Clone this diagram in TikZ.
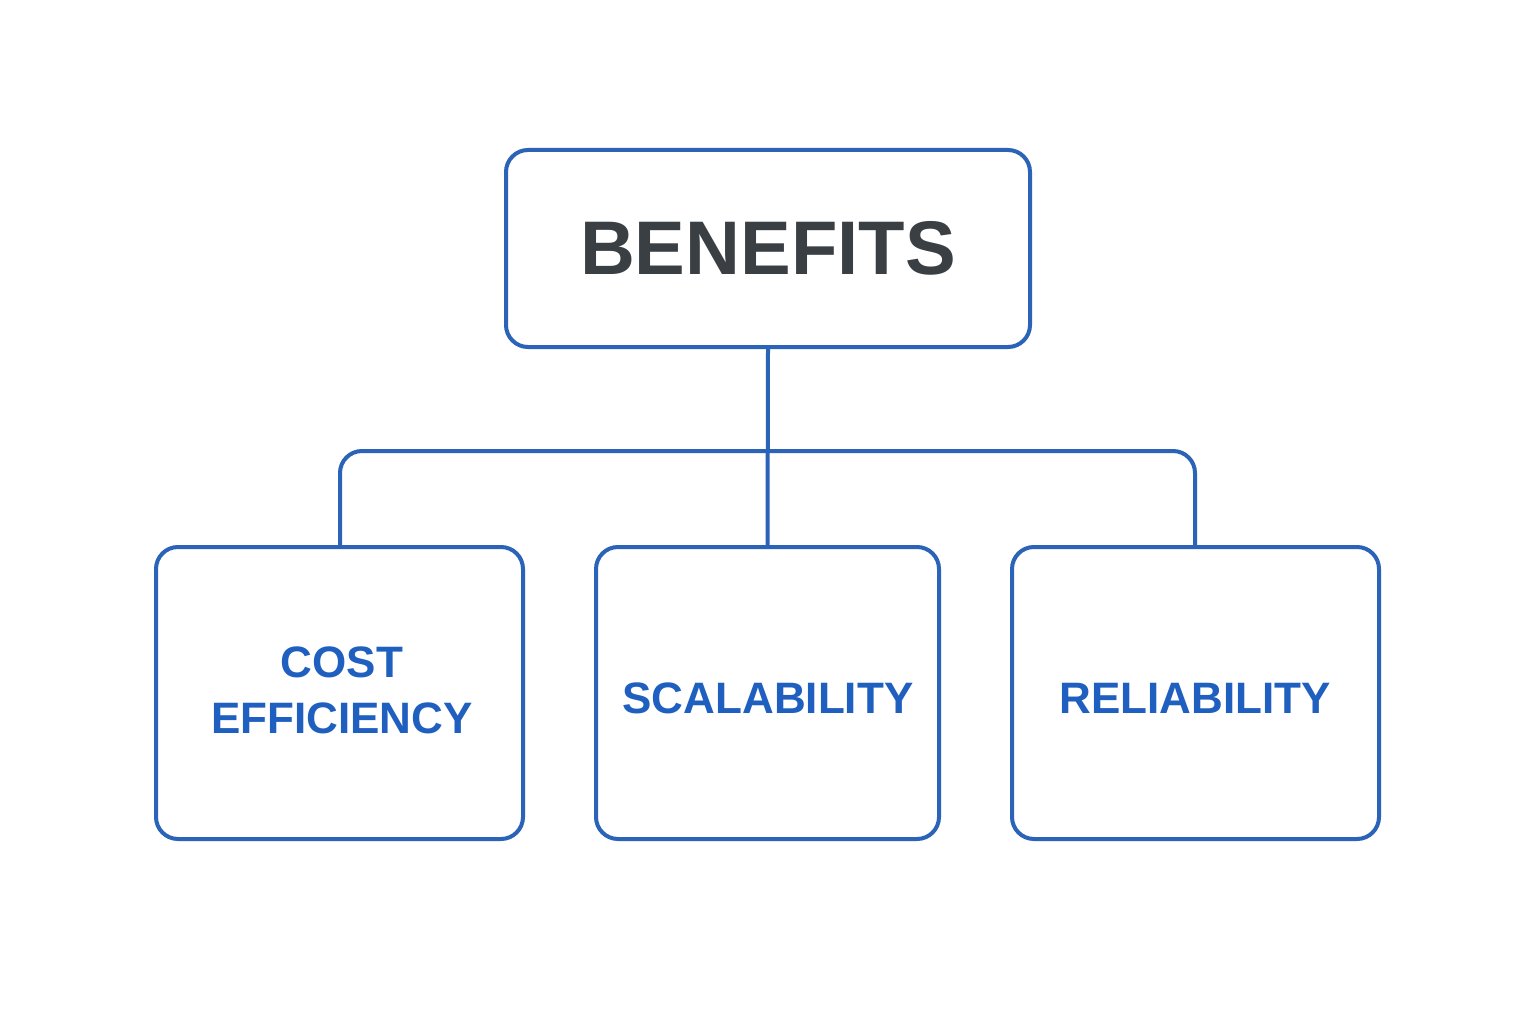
\documentclass[tikz,border=0pt]{standalone}
\usepackage{fontspec}
\setmainfont{Liberation Sans}
\begin{document}
\begin{tikzpicture}[x=1pt,y=-1pt,
  bx/.style={draw=boxblue,line width=4pt,rounded corners=22pt,fill=white},
  ln/.style={draw=boxblue,line width=4pt},
  lbl/.style={font=\bfseries\fontsize{44}{56}\selectfont,text=txtblue,align=center}]
\definecolor{boxblue}{HTML}{2A63B8}
\definecolor{txtblue}{HTML}{1F5FBF}
\definecolor{dark}{HTML}{3A3F44}
\useasboundingbox (0,0) rectangle (1536,1024);
\fill[white] (0,0) rectangle (1536,1024);
\coordinate (hl) at (340,451);
\coordinate (hr) at (1195,451);
\coordinate (hm) at (768,451);
\node[bx,minimum width=524pt,minimum height=197pt] (top) at (768,248.5) {};
\node[font=\bfseries\fontsize{76}{90}\selectfont,text=dark] at (top) {BENEFITS};
\node[bx,minimum width=367pt,minimum height=292pt] (b1) at (339.5,693) {};
\node[bx,minimum width=343pt,minimum height=292pt] (b2) at (767.5,693) {};
\node[bx,minimum width=367pt,minimum height=292pt] (b3) at (1195.5,693) {};
\node[lbl] at (342,690) {COST\\EFFICIENCY};
\node[lbl] at (768,698) {SCALABILITY};
\node[lbl] at (1195,698) {RELIABILITY};
\draw[ln] (top.south) -- (b2.north);
\draw[ln,rounded corners=22pt] (b1.north -| hl) -- (hl) -- (hr) -- (b3.north -| hr);
\end{tikzpicture}
\end{document}
